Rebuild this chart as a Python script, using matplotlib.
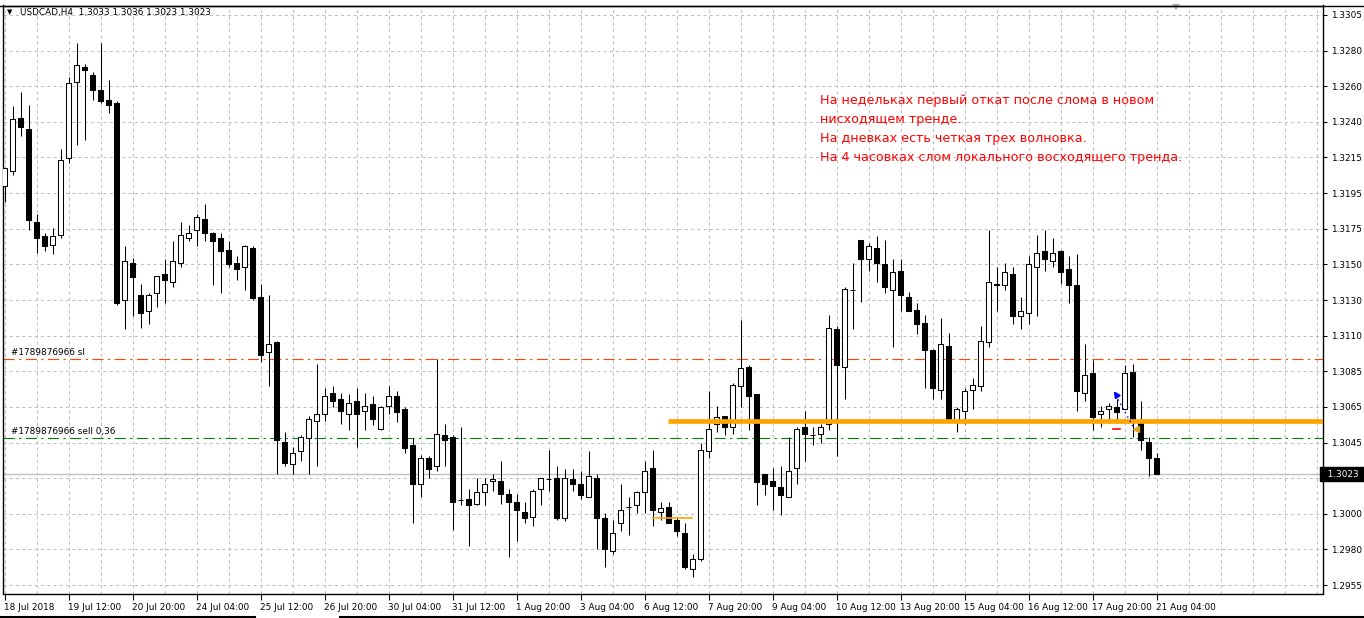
"""USDCAD H4 - recriacao do grafico de velas estilo MetaTrader 4."""
import matplotlib
matplotlib.use("Agg")
import matplotlib.pyplot as plt
from matplotlib.lines import Line2D
from matplotlib.patches import Polygon
import matplotlib.transforms as mtransforms

# Cores no estilo MT4 (fundo branco)
COR_GRID = "#C0C0C0"
COR_TEXTO = "#000000"
COR_SL = "#FF4500"
COR_SELL = "#008000"
COR_NIVEL = "#FFA500"
COR_NOTA = "#FF0000"

# ---- dados (barras H4, 18 Jul 2018 04:00 .. 21 Aug 2018 04:00) ----
opens = [
    1.3200, 1.3209, 1.3242, 1.3235, 1.3178, 1.3169, 1.3164, 1.3170, 1.3217, 1.3264,
    1.3273, 1.3268, 1.3259, 1.3253, 1.3251, 1.3130, 1.3153, 1.3133, 1.3123, 1.3134,
    1.3146, 1.3141, 1.3153, 1.3168, 1.3173, 1.3180, 1.3171, 1.3168, 1.3161, 1.3153,
    1.3150, 1.3162, 1.3132, 1.3098, 1.3104, 1.3043, 1.3029, 1.3037, 1.3045, 1.3056,
    1.3060, 1.3073, 1.3069, 1.3060, 1.3068, 1.3062, 1.3066, 1.3051, 1.3065, 1.3071,
    1.3063, 1.3041, 1.3017, 1.3033, 1.3028, 1.3047, 1.3046, 1.3007, 1.3008, 1.3005,
    1.3012, 1.3019, 1.3019, 1.3011, 1.3006, 1.3000, 1.2997, 1.3014, 1.3020, 1.3021,
    1.2996, 1.3020, 1.3017, 1.3009, 1.3021, 1.2996, 1.2976, 1.2993, 1.3003, 1.3004,
    1.3012, 1.3027, 1.3000, 1.3003, 1.2995, 1.2987, 1.2965, 1.2971, 1.3037, 1.3054,
    1.3059, 1.3052, 1.3077, 1.3089, 1.3072, 1.3023, 1.3019, 1.3015, 1.3009, 1.3027,
    1.3052, 1.3047, 1.3048, 1.3054, 1.3112, 1.3089, 1.3136, 1.3167, 1.3155, 1.3162,
    1.3152, 1.3136, 1.3148, 1.3132, 1.3124, 1.3116, 1.3099, 1.3075, 1.3102, 1.3055,
    1.3062, 1.3075, 1.3077, 1.3104, 1.3140, 1.3139, 1.3146, 1.3120, 1.3122, 1.3150,
    1.3160, 1.3154, 1.3160, 1.3149, 1.3139, 1.3073, 1.3085, 1.3060, 1.3063, 1.3064,
    1.3063, 1.3086, 1.3055, 1.3043, 1.3033,
]
highs = [
    1.3211, 1.3249, 1.3258, 1.3250, 1.3183, 1.3171, 1.3174, 1.3223, 1.3267, 1.3288,
    1.3275, 1.3270, 1.3288, 1.3265, 1.3252, 1.3163, 1.3156, 1.3140, 1.3134, 1.3145,
    1.3155, 1.3166, 1.3178, 1.3176, 1.3183, 1.3189, 1.3172, 1.3171, 1.3166, 1.3157,
    1.3164, 1.3163, 1.3140, 1.3133, 1.3105, 1.3049, 1.3040, 1.3047, 1.3059, 1.3091,
    1.3076, 1.3077, 1.3073, 1.3072, 1.3076, 1.3073, 1.3071, 1.3065, 1.3077, 1.3074,
    1.3064, 1.3045, 1.3035, 1.3034, 1.3094, 1.3054, 1.3047, 1.3052, 1.3014, 1.3021,
    1.3021, 1.3023, 1.3031, 1.3014, 1.3011, 1.3006, 1.3014, 1.3021, 1.3038, 1.3028,
    1.3026, 1.3026, 1.3025, 1.3037, 1.3023, 1.2999, 1.2995, 1.3017, 1.3009, 1.3013,
    1.3031, 1.3038, 1.3006, 1.3006, 1.2996, 1.2993, 1.2974, 1.3042, 1.3074, 1.3065,
    1.3059, 1.3079, 1.3118, 1.3090, 1.3072, 1.3023, 1.3027, 1.3028, 1.3046, 1.3052,
    1.3062, 1.3052, 1.3054, 1.3121, 1.3114, 1.3138, 1.3153, 1.3167, 1.3165, 1.3169,
    1.3167, 1.3155, 1.3155, 1.3135, 1.3128, 1.3121, 1.3100, 1.3119, 1.3110, 1.3064,
    1.3076, 1.3082, 1.3114, 1.3173, 1.3150, 1.3153, 1.3150, 1.3132, 1.3157, 1.3170,
    1.3173, 1.3168, 1.3161, 1.3157, 1.3158, 1.3103, 1.3093, 1.3065, 1.3067, 1.3069,
    1.3090, 1.3091, 1.3068, 1.3046, 1.3036,
]
lows = [
    1.3190, 1.3207, 1.3231, 1.3173, 1.3159, 1.3160, 1.3158, 1.3168, 1.3214, 1.3225,
    1.3228, 1.3253, 1.3251, 1.3245, 1.3127, 1.3112, 1.3120, 1.3113, 1.3115, 1.3126,
    1.3128, 1.3138, 1.3150, 1.3166, 1.3163, 1.3166, 1.3139, 1.3134, 1.3150, 1.3142,
    1.3136, 1.3130, 1.3092, 1.3077, 1.3023, 1.3028, 1.3023, 1.3031, 1.3023, 1.3028,
    1.3056, 1.3064, 1.3054, 1.3050, 1.3040, 1.3050, 1.3053, 1.3050, 1.3060, 1.3055,
    1.3036, 1.2993, 1.3009, 1.3021, 1.3025, 1.3028, 1.2989, 1.3004, 1.2979, 1.3004,
    1.3004, 1.3013, 1.3005, 1.2972, 1.2982, 1.2993, 1.2991, 1.3004, 1.3013, 1.2995,
    1.2994, 1.3013, 1.3008, 1.3009, 1.2977, 1.2966, 1.2974, 1.2988, 1.2986, 1.2999,
    1.2999, 1.2991, 1.2995, 1.2993, 1.2985, 1.2965, 1.2960, 1.2970, 1.3033, 1.3049,
    1.3047, 1.3048, 1.3064, 1.3050, 1.3004, 1.3010, 1.3001, 1.2998, 1.3009, 1.3017,
    1.3031, 1.3041, 1.3042, 1.3050, 1.3034, 1.3069, 1.3112, 1.3129, 1.3148, 1.3141,
    1.3134, 1.3101, 1.3123, 1.3123, 1.3109, 1.3076, 1.3069, 1.3069, 1.3055, 1.3049,
    1.3054, 1.3063, 1.3074, 1.3101, 1.3123, 1.3136, 1.3115, 1.3112, 1.3115, 1.3120,
    1.3148, 1.3150, 1.3140, 1.3128, 1.3062, 1.3068, 1.3050, 1.3052, 1.3055, 1.3055,
    1.3063, 1.3046, 1.3038, 1.3022, 1.3023,
]
closes = [
    1.3211, 1.3241, 1.3236, 1.3179, 1.3168, 1.3163, 1.3169, 1.3216, 1.3263, 1.3274,
    1.3271, 1.3259, 1.3252, 1.3250, 1.3128, 1.3154, 1.3144, 1.3122, 1.3133, 1.3145,
    1.3142, 1.3154, 1.3170, 1.3171, 1.3181, 1.3171, 1.3166, 1.3160, 1.3152, 1.3149,
    1.3163, 1.3131, 1.3096, 1.3103, 1.3044, 1.3030, 1.3036, 1.3046, 1.3057, 1.3060,
    1.3071, 1.3068, 1.3062, 1.3067, 1.3060, 1.3065, 1.3057, 1.3064, 1.3071, 1.3061,
    1.3039, 1.3017, 1.3033, 1.3026, 1.3048, 1.3044, 1.3006, 1.3007, 1.3004, 1.3012,
    1.3017, 1.3020, 1.3011, 1.3006, 1.3001, 1.2996, 1.3013, 1.3021, 1.3020, 1.2996,
    1.3021, 1.3017, 1.3010, 1.3022, 1.2996, 1.2977, 1.2987, 1.3001, 1.3003, 1.3012,
    1.3025, 1.3001, 1.3002, 1.2993, 1.2988, 1.2966, 1.2971, 1.3038, 1.3051, 1.3058,
    1.3052, 1.3078, 1.3088, 1.3071, 1.3018, 1.3017, 1.3016, 1.3010, 1.3025, 1.3051,
    1.3048, 1.3047, 1.3052, 1.3113, 1.3090, 1.3137, 1.3136, 1.3155, 1.3163, 1.3153,
    1.3138, 1.3147, 1.3133, 1.3123, 1.3115, 1.3099, 1.3076, 1.3103, 1.3057, 1.3063,
    1.3074, 1.3078, 1.3105, 1.3141, 1.3139, 1.3147, 1.3120, 1.3123, 1.3152, 1.3159,
    1.3155, 1.3159, 1.3147, 1.3139, 1.3074, 1.3084, 1.3058, 1.3062, 1.3065, 1.3061,
    1.3085, 1.3055, 1.3044, 1.3033, 1.3023,
]

# rotulos do eixo de tempo (um a cada 8 barras)
date_labels = [
    "18 Jul 2018", "19 Jul 12:00", "20 Jul 20:00", "24 Jul 04:00", "25 Jul 12:00",
    "26 Jul 20:00", "30 Jul 04:00", "31 Jul 12:00", "1 Aug 20:00", "3 Aug 04:00",
    "6 Aug 12:00", "7 Aug 20:00", "9 Aug 04:00", "10 Aug 12:00", "13 Aug 20:00",
    "15 Aug 04:00", "16 Aug 12:00", "17 Aug 20:00", "21 Aug 04:00",
]
# escala de precos (MT4 arredonda os rotulos da grade);
# o rotulo 1.3020 fica escondido atras da etiqueta do bid
price_top, price_step = 1.3305, 0.0021875
price_labels = [
    "1.3305", "1.3280", "1.3260", "1.3240", "1.3215", "1.3195", "1.3175", "1.3150",
    "1.3130", "1.3110", "1.3085", "1.3065", "1.3045", "", "1.3000", "1.2980",
    "1.2955",
]

sl_price = 1.3094
sell_price = 1.3045
level_price = 1.3056
level_start = 82.9
small_level_price = 1.2996
small_level_bars = (81.1, 85.9)
bid_price = 1.3023

nota = [
    "На недельках первый откат после слома в новом",
    "нисходящем тренде.",
    "На дневках есть четкая трех волновка.",
    "На 4 часовках слом локального восходящего тренда.",
]

# ---- figura ----
W, H = 1364, 618
fig = plt.figure(figsize=(W / 100, H / 100), dpi=100)
fig.patch.set_facecolor("white")

ax_l, ax_r, ax_t, ax_b = 3.3, 1322.5, 5.5, 593.5   # bordas do grafico em pixels
ax = fig.add_axes([ax_l / W, 1 - ax_b / H, (ax_r - ax_l) / W, (ax_b - ax_t) / H])
ax.set_xlim(-0.15, 164.75)
ax.set_ylim(1.294979, 1.331083)
for sp in ax.spines.values():
    sp.set_color("black")
    sp.set_linewidth(1.0)

FS = 6.4

# grade pontilhada
n_grid = len(price_labels)
grid_prices = [price_top - k * price_step for k in range(n_grid)]
for gp in grid_prices:
    ax.axhline(gp, color=COR_GRID, lw=0.75, dashes=(3, 3), zorder=0)
for gx in range(0, 168, 4):
    ax.axvline(gx, color=COR_GRID, lw=0.75, dashes=(3, 3), zorder=0)

# linha do bid
ax.axhline(bid_price, color=COR_GRID, lw=1.0, zorder=1)

# velas
n = len(closes)
xs = list(range(n))
ax.vlines(xs, lows, highs, color="black", lw=0.75, zorder=2)
for i in xs:
    o, c = opens[i], closes[i]
    bottom = min(o, c)
    height = max(abs(c - o), 0.000015)
    face = "white" if c >= o else "black"
    ax.bar(i, height, bottom=bottom, width=0.55, color=face, edgecolor="black",
           linewidth=0.75, zorder=3)

# linhas de ordem
ax.axhline(sl_price, color=COR_SL, lw=0.8, dashes=(10, 4, 2, 4), zorder=1)
ax.axhline(sell_price, color=COR_SELL, lw=0.8, dashes=(10, 4, 2, 4), zorder=1)
ax.annotate("#1789876966 sl", (0.8, sl_price), xytext=(0, 1.5),
            textcoords="offset points", fontsize=FS, va="bottom", color=COR_TEXTO)
ax.annotate("#1789876966 sell 0,36", (0.8, sell_price), xytext=(0, 1.5),
            textcoords="offset points", fontsize=FS, va="bottom", color=COR_TEXTO)

# niveis desenhados a mao
ax.plot([level_start, 170], [level_price, level_price], color=COR_NIVEL, lw=3.4,
        solid_capstyle="butt", zorder=4)
ax.plot(small_level_bars, [small_level_price] * 2, color=COR_NIVEL, lw=1.2, zorder=4)

# marcas da operacao fechada
ax.plot([138.6, 139.4], [1.3051, 1.3051], color="red", lw=1.2, zorder=5)
ax.plot([139.2, 141.1], [1.3069, 1.3052], color="blue", lw=1.0, dashes=(1, 2.5), zorder=5)
ax.annotate("", xy=(138.45, 1.30755), xytext=(139.15, 1.30705),
            arrowprops=dict(arrowstyle="-|>", color="blue", lw=1.6, mutation_scale=8),
            zorder=6)
ax.plot(141.4, 1.3051, marker="<", color="#DAA520", markersize=4.5, zorder=6)

# texto do analista
for k, linha in enumerate(nota):
    fig.text(820 / W, 1 - (100.5 + 19 * k) / H, linha, fontsize=9.2, color=COR_NOTA,
             ha="left", va="center")

# eixo de precos a direita
ax.yaxis.tick_right()
ax.set_yticks(grid_prices)
ax.set_yticklabels(price_labels)
ax.tick_params(axis="y", direction="out", length=3, width=0.75, pad=3,
               labelsize=FS, colors="black")
ax.yaxis.set_tick_params(which="both", left=False)

# eixo de tempo
ax.set_xticks(list(range(0, n, 8)))
ax.set_xticklabels(date_labels, ha="left")
ax.tick_params(axis="x", direction="out", length=4, width=0.75, pad=2.5,
               labelsize=FS, colors="black")
for lbl in ax.get_xticklabels():
    lbl.set_transform(lbl.get_transform() +
                      mtransforms.ScaledTranslation(-1 / 100, 0, fig.dpi_scale_trans))

# etiqueta do bid
trans = mtransforms.blended_transform_factory(ax.transAxes, ax.transData)
ax.text(1.0, bid_price, "  1.3023 ", transform=trans, fontsize=FS, color="white",
        va="center", ha="left", zorder=10, clip_on=False,
        bbox=dict(boxstyle="square,pad=0.3", fc="black", ec="black"))

# cabecalho
fig.text(7 / W, 1 - 12.5 / H, "▼", fontsize=5, color="black", va="center")
fig.text(20 / W, 1 - 12.5 / H, "USDCAD,H4  1.3033 1.3036 1.3023 1.3023",
         fontsize=FS, color="black", va="center")

# marcador de deslocamento do grafico
fig.patches.append(Polygon([[1172 / W, 1 - 4 / H], [1180 / W, 1 - 4 / H],
                            [1176 / W, 1 - 10 / H]], closed=True,
                           transform=fig.transFigure, fc="#A0A0A0", ec="none"))

# bordas da janela
fig.lines.append(Line2D([0, 1], [1 - 5.5 / H] * 2, color="black", lw=1.0,
                        transform=fig.transFigure))
fig.lines.append(Line2D([0, 255 / W], [1 - 616.5 / H] * 2, color="black", lw=1.5,
                        transform=fig.transFigure))
fig.lines.append(Line2D([340 / W, 1], [1 - 616.5 / H] * 2, color="black", lw=1.5,
                        transform=fig.transFigure))

fig.savefig("out.png", dpi=100, facecolor="white")
